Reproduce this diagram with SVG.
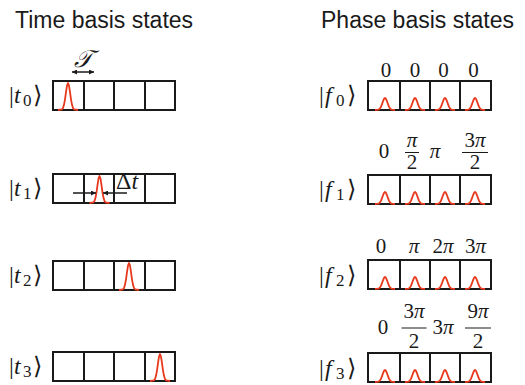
<svg xmlns="http://www.w3.org/2000/svg" width="525" height="385" viewBox="0 0 525 385">
<style>
.head{font-family:"Liberation Sans",Arial,sans-serif;font-size:23px;fill:#1a1a1a}
.m{font-family:"Liberation Serif","DejaVu Serif",serif;font-size:24px;fill:#1a1a1a}
.it{font-style:italic}
.sub{font-size:17px}
.n{font-family:"Liberation Serif","DejaVu Serif",serif;font-size:21px;fill:#1a1a1a;text-anchor:middle}
.box{fill:none;stroke:#1a1a1a;stroke-width:2}
.pulse{fill:none;stroke:#e8391d;stroke-width:1.8;stroke-linejoin:round}
.bar{stroke:#1a1a1a;stroke-width:1}
.arr{stroke:#1a1a1a;stroke-width:1.5;fill:none}
</style>
<defs>
<path id="tp" d="M-10,0 L-6,-0.7 L-5,-2 L-4,-5.2 L-3,-10.7 L-2,-17.9 L-1,-24.4 L0,-27 L1,-24.4 L2,-17.9 L3,-10.7 L4,-5.2 L5,-2 L6,-0.7 L10,0"/>
<path id="fp" d="M-10,0 L-7,-0.3 L-6,-0.7 L-5,-1.6 L-4,-3.3 L-3,-5.8 L-2,-8.7 L-1,-11.1 L0,-12 L1,-11.1 L2,-8.7 L3,-5.8 L4,-3.3 L5,-1.6 L6,-0.7 L7,-0.3 L10,0"/>
<g id="tcells">
<rect class="box" x="0" y="0" width="122" height="29"/>
<path class="box" d="M31,0V29M61,0V29M92,0V29"/>
</g>
<g id="fcells">
<rect class="box" x="0" y="0" width="123" height="29"/>
<path class="box" d="M32,0V29M62,0V29M92,0V29"/>
</g>
<marker id="ah" viewBox="0 0 10 10" refX="10" refY="5" markerWidth="5" markerHeight="5" orient="auto-start-reverse" markerUnits="userSpaceOnUse">
<path d="M0,0 L10,5 L0,10 Z" fill="#1a1a1a"/>
</marker>
</defs>

<text class="head" x="15" y="27.5">Time basis states</text>
<text class="head" x="321" y="27.5">Phase basis states</text>

<!-- time basis -->
<g id="t0">
<text class="m" y="103"><tspan x="9">|</tspan><tspan x="14" class="it">t</tspan><tspan x="23" y="106" class="sub">0</tspan><tspan x="33" y="103">⟩</tspan></text>
<use href="#tcells" x="53" y="81"/>
<use href="#tp" class="pulse" x="68" y="110"/>
</g>
<g id="t1">
<text class="m" y="196"><tspan x="9">|</tspan><tspan x="14" class="it">t</tspan><tspan x="23" y="199" class="sub">1</tspan><tspan x="33" y="196">⟩</tspan></text>
<use href="#tcells" x="53" y="174"/>
<use href="#tp" class="pulse" x="99.5" y="203"/>
</g>
<g id="t2">
<text class="m" y="283"><tspan x="9">|</tspan><tspan x="14" class="it">t</tspan><tspan x="23" y="286" class="sub">2</tspan><tspan x="33" y="283">⟩</tspan></text>
<use href="#tcells" x="53" y="261"/>
<use href="#tp" class="pulse" x="129" y="290"/>
</g>
<g id="t3">
<text class="m" y="374"><tspan x="9">|</tspan><tspan x="14" class="it">t</tspan><tspan x="23" y="377" class="sub">3</tspan><tspan x="33" y="374">⟩</tspan></text>
<use href="#tcells" x="53" y="352"/>
<use href="#tp" class="pulse" x="160" y="381"/>
</g>

<!-- annotations -->
<g id="connectors">
<text class="m it" x="83" y="67" text-anchor="middle" font-size="20">𝒯</text>
<line class="arr" x1="72" y1="72" x2="94" y2="72" marker-start="url(#ah)" marker-end="url(#ah)"/>
<line class="arr" x1="73" y1="193" x2="96" y2="193" marker-end="url(#ah)"/>
<line class="arr" x1="127" y1="193" x2="103" y2="193" marker-end="url(#ah)"/>
<text class="m" x="116" y="189" font-size="18">Δ<tspan class="it">t</tspan></text>
</g>

<!-- phase basis -->
<g id="f0">
<text class="m" y="103"><tspan x="319">|</tspan><tspan x="325" class="it">f</tspan><tspan x="336" y="106" class="sub">0</tspan><tspan x="347" y="103">⟩</tspan></text>
<use href="#fcells" x="368" y="81"/>
<use href="#fp" class="pulse" x="385" y="110"/>
<use href="#fp" class="pulse" x="415" y="110"/>
<use href="#fp" class="pulse" x="445" y="110"/>
<use href="#fp" class="pulse" x="475" y="110"/>
<text class="n" x="386" y="77">0</text>
<text class="n" x="415" y="77">0</text>
<text class="n" x="443.5" y="77">0</text>
<text class="n" x="473.5" y="77">0</text>
</g>
<g id="f1">
<text class="m" y="197"><tspan x="319">|</tspan><tspan x="325" class="it">f</tspan><tspan x="336" y="200" class="sub">1</tspan><tspan x="347" y="197">⟩</tspan></text>
<use href="#fcells" x="368" y="175"/>
<use href="#fp" class="pulse" x="385" y="204"/>
<use href="#fp" class="pulse" x="415" y="204"/>
<use href="#fp" class="pulse" x="445" y="204"/>
<use href="#fp" class="pulse" x="475" y="204"/>
<text class="n" x="384" y="158">0</text>
<text class="n it" x="412" y="147">π</text>
<line class="bar" x1="405" y1="152.5" x2="419" y2="152.5"/>
<text class="n" x="412" y="169">2</text>
<text class="n it" x="435" y="158">π</text>
<text class="n" x="475" y="147">3<tspan class="it">π</tspan></text>
<line class="bar" x1="462" y1="152.5" x2="488" y2="152.5"/>
<text class="n" x="475" y="169">2</text>
</g>
<g id="f2">
<text class="m" y="283"><tspan x="319">|</tspan><tspan x="325" class="it">f</tspan><tspan x="336" y="286" class="sub">2</tspan><tspan x="347" y="283">⟩</tspan></text>
<use href="#fcells" x="368" y="260"/>
<use href="#fp" class="pulse" x="385" y="289"/>
<use href="#fp" class="pulse" x="415" y="289"/>
<use href="#fp" class="pulse" x="445" y="289"/>
<use href="#fp" class="pulse" x="475" y="289"/>
<text class="n" x="381" y="253">0</text>
<text class="n it" x="414" y="253">π</text>
<text class="n" x="443" y="253">2<tspan class="it">π</tspan></text>
<text class="n" x="475.5" y="253">3<tspan class="it">π</tspan></text>
</g>
<g id="f3">
<text class="m" y="376"><tspan x="319">|</tspan><tspan x="325" class="it">f</tspan><tspan x="336" y="379" class="sub">3</tspan><tspan x="347" y="376">⟩</tspan></text>
<use href="#fcells" x="368" y="353"/>
<use href="#fp" class="pulse" x="385" y="382"/>
<use href="#fp" class="pulse" x="415" y="382"/>
<use href="#fp" class="pulse" x="445" y="382"/>
<use href="#fp" class="pulse" x="475" y="382"/>
<text class="n" x="383" y="334">0</text>
<text class="n" x="414" y="318">3<tspan class="it">π</tspan></text>
<line class="bar" x1="401.5" y1="328" x2="426.5" y2="328"/>
<text class="n" x="414" y="348">2</text>
<text class="n" x="443" y="334">3<tspan class="it">π</tspan></text>
<text class="n" x="478" y="318">9<tspan class="it">π</tspan></text>
<line class="bar" x1="465" y1="328" x2="491" y2="328"/>
<text class="n" x="478" y="348">2</text>
</g>
</svg>
